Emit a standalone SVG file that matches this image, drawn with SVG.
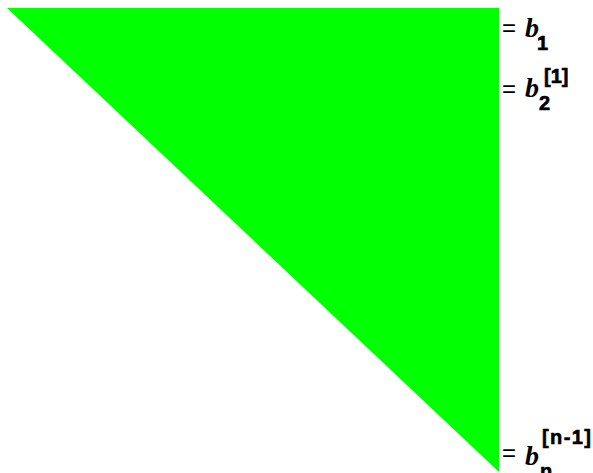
<svg xmlns="http://www.w3.org/2000/svg" width="593" height="473" viewBox="0 0 593 473">
<style>
.eq{font-family:"Liberation Sans",Arial,sans-serif;font-size:24px;fill:#000}
.b{font-family:"Liberation Serif","Times New Roman",serif;font-style:italic;font-weight:bold;font-size:28px;fill:#000}
.s{font-family:"Liberation Sans",Arial,sans-serif;font-weight:bold;font-size:20px;fill:#000;stroke:#000;stroke-width:0.6}
</style>
<rect width="593" height="473" fill="#fff"/>
<g id="triangle"><polygon points="7,8 499,8 499,472" fill="#00ff00"/></g>
<g id="label1">
<text class="eq" x="502" y="36">=</text>
<text class="b" x="525" y="37">b</text>
<text class="s" x="537" y="50">1</text>
</g>
<g id="label2">
<text class="eq" x="502" y="97">=</text>
<text class="b" x="525" y="97">b</text>
<text class="s" x="539" y="110">2</text>
<text class="s" x="544" y="83">[1]</text>
</g>
<g id="label3">
<text class="eq" x="502" y="461">=</text>
<text class="b" x="525" y="465">b</text>
<text class="s" x="540" y="478">n</text>
<text class="s" x="542" y="444" textLength="49" lengthAdjust="spacing">[n-1]</text>
</g>
</svg>
